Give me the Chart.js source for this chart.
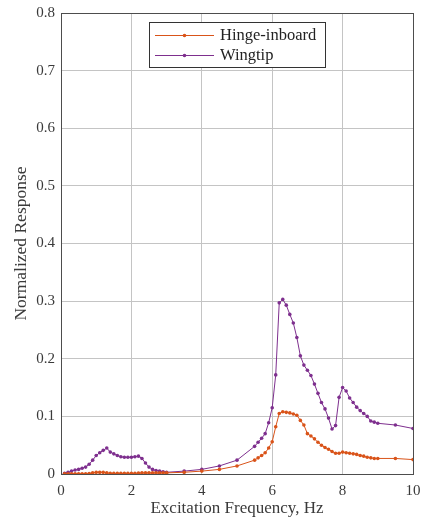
<!DOCTYPE html>
<html>
<head>
<meta charset="utf-8">
<script src="https://cdn.jsdelivr.net/npm/chart.js@4"></script>
<style>
  html, body { margin: 0; padding: 0; background: #fff; }
  #wrap { width: 422px; height: 523px; }
</style>
</head>
<body>
<div id="wrap"><canvas id="c" width="422" height="523"></canvas></div>
<script>
// Excitation frequencies (Hz)
const freq = [
  0.1, 0.2, 0.3, 0.4, 0.5, 0.6, 0.7, 0.8, 0.9, 1.0,
  1.1, 1.2, 1.3, 1.4, 1.5, 1.6, 1.7, 1.8, 1.9, 2.0,
  2.1, 2.2, 2.3, 2.4, 2.5, 2.6, 2.7, 2.8, 2.9, 3.0,
  3.5, 4.0, 4.5, 5.0, 5.5, 5.6, 5.7, 5.8, 5.9, 6.0,
  6.1, 6.2, 6.3, 6.4, 6.5, 6.6, 6.7, 6.8, 6.9, 7.0,
  7.1, 7.2, 7.3, 7.4, 7.5, 7.6, 7.7, 7.8, 7.9, 8.0,
  8.1, 8.2, 8.3, 8.4, 8.5, 8.6, 8.7, 8.8, 8.9, 9.0,
  9.5, 10.0
];

// Normalized response, hinge-inboard sensor
const hingeInboard = [
  0.0005, 0.0005, 0.0005, 0.0005, 0.0005, 0.0005, 0.0005, 0.0008, 0.002, 0.003,
  0.003, 0.003, 0.002, 0.001, 0.001, 0.001, 0.001, 0.001, 0.001, 0.001,
  0.001, 0.0015, 0.002, 0.002, 0.002, 0.002, 0.002, 0.002, 0.002, 0.002,
  0.003, 0.005, 0.008, 0.014, 0.024, 0.028, 0.032, 0.037, 0.045, 0.056,
  0.082, 0.105, 0.108, 0.107, 0.106, 0.104, 0.102, 0.093, 0.085, 0.070,
  0.066, 0.061, 0.055, 0.050, 0.046, 0.043, 0.039, 0.036, 0.036, 0.038,
  0.037, 0.036, 0.035, 0.034, 0.032, 0.031, 0.029, 0.028, 0.027, 0.027,
  0.027, 0.025
];

// Normalized response, wingtip sensor
const wingtip = [
  0.001, 0.003, 0.005, 0.007, 0.008, 0.010, 0.012, 0.017, 0.024, 0.032,
  0.037, 0.041, 0.045, 0.038, 0.035, 0.032, 0.030, 0.029, 0.029, 0.029,
  0.030, 0.031, 0.027, 0.019, 0.012, 0.008, 0.006, 0.005, 0.004, 0.003,
  0.005, 0.008, 0.014, 0.024, 0.048, 0.055, 0.062, 0.070, 0.089, 0.115,
  0.172, 0.297, 0.303, 0.293, 0.277, 0.262, 0.237, 0.205, 0.189, 0.180,
  0.171, 0.156, 0.140, 0.124, 0.113, 0.097, 0.078, 0.084, 0.133, 0.150,
  0.144, 0.132, 0.124, 0.116, 0.110, 0.105, 0.100, 0.092, 0.090, 0.088,
  0.085, 0.079
];

const seriesNames = ['Hinge-inboard', 'Wingtip'];
const seriesColors = ['#D95319', '#7E2F8E'];
const xTicks = [0, 2, 4, 6, 8, 10];
const yTicks = [0, 0.1, 0.2, 0.3, 0.4, 0.5, 0.6, 0.7, 0.8];

const FONT = "'Liberation Serif', 'Times New Roman', serif";
const TEXT = '#3a3a3a';

function points(ys) { return freq.map((f, i) => ({ x: f, y: ys[i] })); }

// Box around the axes plus a boxed legend in the upper part of the plot
const frameAndLegend = {
  id: 'frameAndLegend',
  afterDatasetsDraw(chart) {
    const { ctx, chartArea: a } = chart;
    ctx.save();
    ctx.strokeStyle = '#4d4d4d';
    ctx.lineWidth = 1;
    ctx.strokeRect(Math.round(a.left) + 0.5, Math.round(a.top) + 0.5,
                   Math.round(a.right - a.left), Math.round(a.bottom - a.top));

    // legend
    const bx = 149, by = 22, bw = 176, bh = 45;
    ctx.fillStyle = '#fff';
    ctx.fillRect(bx, by, bw, bh);
    ctx.strokeStyle = '#333';
    ctx.strokeRect(bx + 0.5, by + 0.5, bw, bh);
    ctx.font = '16.5px ' + FONT;
    ctx.textBaseline = 'middle';
    ctx.textAlign = 'left';
    chart.data.datasets.forEach((ds, i) => {
      const y = by + 13 + i * 20;
      ctx.strokeStyle = ds.borderColor;
      ctx.lineWidth = 1;
      ctx.beginPath();
      ctx.moveTo(155, y + 0.5);
      ctx.lineTo(214, y + 0.5);
      ctx.stroke();
      ctx.fillStyle = ds.borderColor;
      ctx.beginPath();
      ctx.arc(184.5, y + 0.5, 1.8, 0, Math.PI * 2);
      ctx.fill();
      ctx.fillStyle = '#222';
      ctx.fillText(ds.label, 220, y + 1);
    });
    ctx.restore();
  }
};

new Chart(document.getElementById('c'), {
  type: 'line',
  data: {
    datasets: [
      { label: seriesNames[0], data: points(hingeInboard), borderColor: seriesColors[0],
        backgroundColor: seriesColors[0], borderWidth: 1, pointRadius: 1.8,
        pointBorderWidth: 0, tension: 0 },
      { label: seriesNames[1], data: points(wingtip), borderColor: seriesColors[1],
        backgroundColor: seriesColors[1], borderWidth: 1, pointRadius: 1.8,
        pointBorderWidth: 0, tension: 0 }
    ]
  },
  options: {
    responsive: false,
    animation: false,
    devicePixelRatio: 1,
    layout: { padding: { top: 13, right: 0, left: 0, bottom: 0 } },
    plugins: { legend: { display: false }, tooltip: { enabled: false } },
    scales: {
      x: {
        type: 'linear', min: 0, max: 10,
        afterBuildTicks(s) { s.ticks = xTicks.map(v => ({ value: v })); },
        afterFit(s) { s.height = 49; s.paddingLeft = 0; s.paddingRight = 9; },
        grid: { color: '#c4c4c4', lineWidth: 1, drawTicks: false },
        border: { display: false },
        ticks: { padding: 8, color: TEXT, font: { family: FONT, size: 15 },
                 maxRotation: 0, callback: v => String(v) },
        title: { display: true, text: 'Excitation Frequency, Hz', color: TEXT,
                 font: { family: FONT, size: 17 }, padding: { top: 2, bottom: 4 } }
      },
      y: {
        type: 'linear', min: 0, max: 0.8,
        afterBuildTicks(s) { s.ticks = yTicks.map(v => ({ value: v })); },
        afterFit(s) { s.width = 61; s.paddingTop = 0; s.paddingBottom = 0; },
        grid: { color: '#c4c4c4', lineWidth: 1, drawTicks: false },
        border: { display: false },
        ticks: { padding: 6, color: TEXT, font: { family: FONT, size: 15 },
                 callback: v => String(Math.round(v * 10) / 10) },
        title: { display: true, text: 'Normalized Response', color: TEXT,
                 font: { family: FONT, size: 17.5 }, padding: { top: 11, bottom: 0 } }
      }
    }
  },
  plugins: [frameAndLegend]
});
</script>
</body>
</html>
